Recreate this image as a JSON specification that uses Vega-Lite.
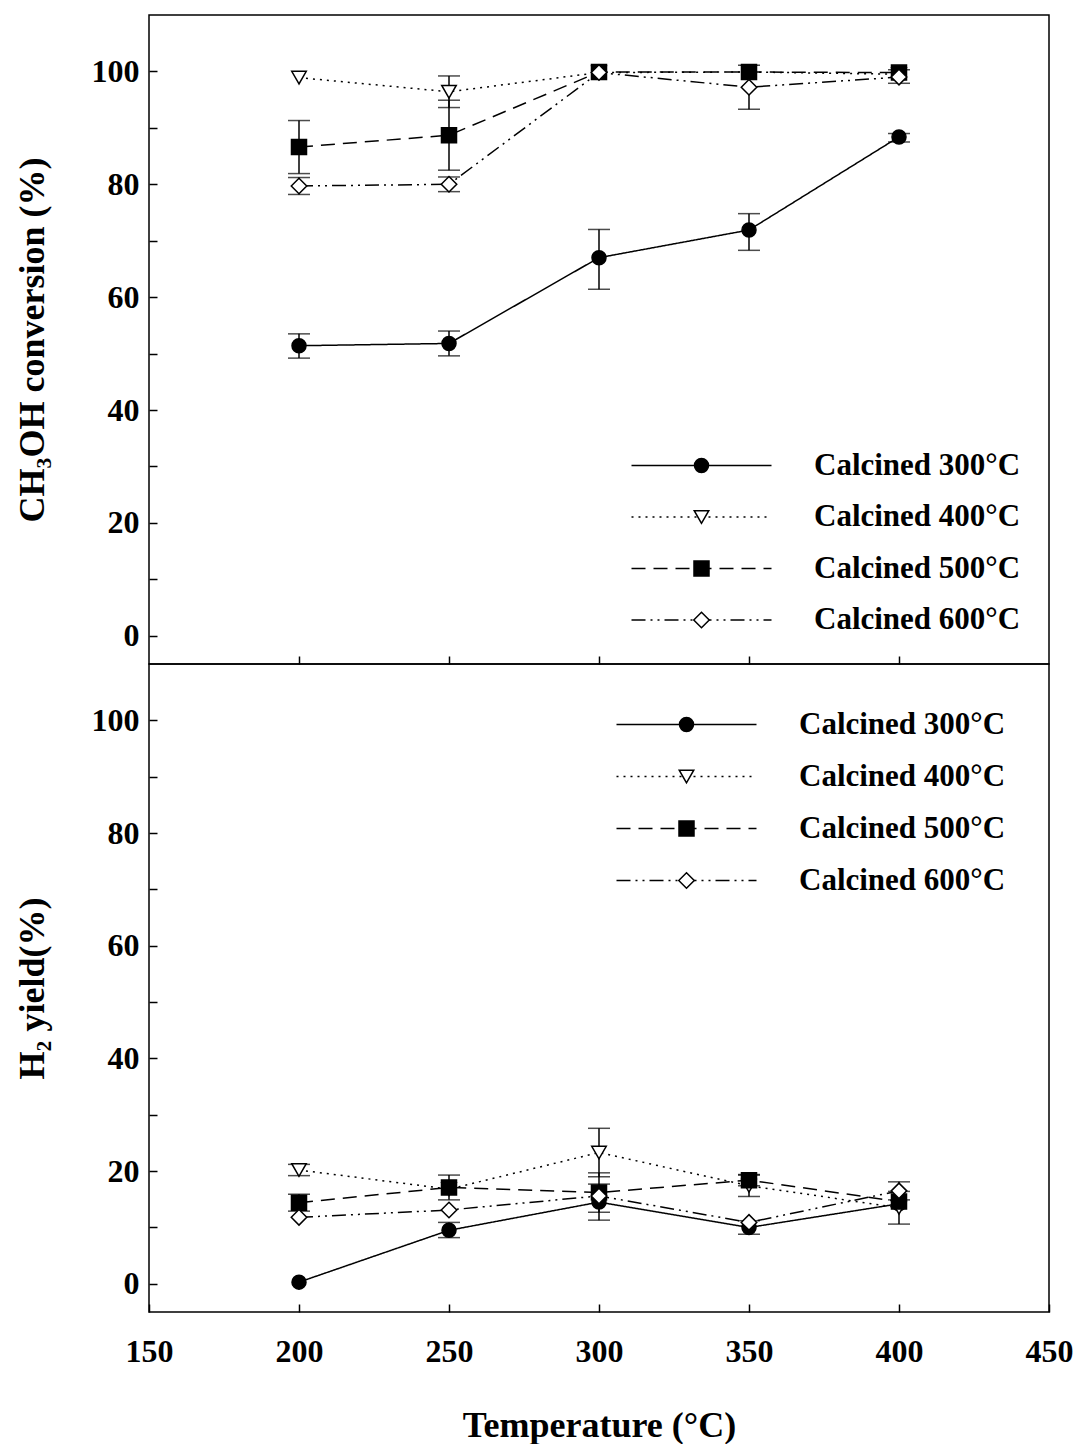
{
  "$schema": "https://vega.github.io/schema/vega-lite/v6.json",
  "background": "white",
  "padding": {"left": 13, "top": 14, "right": 5, "bottom": 0},
  "spacing": 0,
  "bounds": "flush",
  "config": {
    "view": {"stroke": "black", "strokeWidth": 1.5},
    "font": "Liberation Serif",
    "axis": {
      "grid": false,
      "domain": false,
      "tickColor": "black",
      "tickWidth": 1.5,
      "tickSize": -8,
      "labelFont": "Liberation Serif",
      "labelFontWeight": "bold",
      "labelFontSize": 32,
      "labelColor": "black",
      "titleFont": "Liberation Serif",
      "titleFontWeight": "bold",
      "titleFontSize": 36,
      "titleColor": "black"
    }
  },
  "datasets": {
    "conv": [
      {"series": "Calcined 300°C", "T": 200, "v": 51.4, "lo": 49.2, "hi": 53.5},
      {"series": "Calcined 300°C", "T": 250, "v": 51.8, "lo": 49.6, "hi": 54.0},
      {"series": "Calcined 300°C", "T": 300, "v": 67.0, "lo": 61.4, "hi": 72.0},
      {"series": "Calcined 300°C", "T": 350, "v": 71.9, "lo": 68.3, "hi": 74.8},
      {"series": "Calcined 300°C", "T": 400, "v": 88.4, "lo": 87.5, "hi": 89.0},
      {"series": "Calcined 400°C", "T": 200, "v": 98.9, "lo": null, "hi": null},
      {"series": "Calcined 400°C", "T": 250, "v": 96.4, "lo": 93.6, "hi": 99.2},
      {"series": "Calcined 400°C", "T": 300, "v": 99.8, "lo": null, "hi": null},
      {"series": "Calcined 400°C", "T": 350, "v": 99.9, "lo": null, "hi": null},
      {"series": "Calcined 400°C", "T": 400, "v": 99.5, "lo": null, "hi": null},
      {"series": "Calcined 500°C", "T": 200, "v": 86.6, "lo": 81.9, "hi": 91.3},
      {"series": "Calcined 500°C", "T": 250, "v": 88.7, "lo": 82.5, "hi": 94.9},
      {"series": "Calcined 500°C", "T": 300, "v": 99.9, "lo": null, "hi": null},
      {"series": "Calcined 500°C", "T": 350, "v": 99.9, "lo": null, "hi": null},
      {"series": "Calcined 500°C", "T": 400, "v": 99.8, "lo": null, "hi": null},
      {"series": "Calcined 600°C", "T": 200, "v": 79.7, "lo": 78.2, "hi": 81.2},
      {"series": "Calcined 600°C", "T": 250, "v": 80.0, "lo": 78.7, "hi": 81.3},
      {"series": "Calcined 600°C", "T": 300, "v": 99.8, "lo": null, "hi": null},
      {"series": "Calcined 600°C", "T": 350, "v": 97.2, "lo": 93.3, "hi": 101.1},
      {"series": "Calcined 600°C", "T": 400, "v": 99.0, "lo": 97.9, "hi": 100.3}
    ],
    "h2": [
      {"series": "Calcined 300°C", "T": 200, "v": 0.3, "lo": null, "hi": null},
      {"series": "Calcined 300°C", "T": 250, "v": 9.5, "lo": 8.2, "hi": 10.9},
      {"series": "Calcined 300°C", "T": 300, "v": 14.5, "lo": 11.3, "hi": 17.7},
      {"series": "Calcined 300°C", "T": 350, "v": 10.0, "lo": 8.8, "hi": 11.2},
      {"series": "Calcined 300°C", "T": 400, "v": 14.2, "lo": null, "hi": null},
      {"series": "Calcined 400°C", "T": 200, "v": 20.2, "lo": 19.2, "hi": 21.2},
      {"series": "Calcined 400°C", "T": 250, "v": 16.8, "lo": null, "hi": null},
      {"series": "Calcined 400°C", "T": 300, "v": 23.3, "lo": 19.0, "hi": 27.6},
      {"series": "Calcined 400°C", "T": 350, "v": 17.4, "lo": 15.5, "hi": 19.3},
      {"series": "Calcined 400°C", "T": 400, "v": 13.5, "lo": 10.6, "hi": 16.4},
      {"series": "Calcined 500°C", "T": 200, "v": 14.4, "lo": 12.9, "hi": 15.9},
      {"series": "Calcined 500°C", "T": 250, "v": 17.1, "lo": 14.9, "hi": 19.3},
      {"series": "Calcined 500°C", "T": 300, "v": 16.2, "lo": 12.7, "hi": 19.7},
      {"series": "Calcined 500°C", "T": 350, "v": 18.4, "lo": 17.4, "hi": 19.4},
      {"series": "Calcined 500°C", "T": 400, "v": 14.6, "lo": null, "hi": null},
      {"series": "Calcined 600°C", "T": 200, "v": 11.8, "lo": null, "hi": null},
      {"series": "Calcined 600°C", "T": 250, "v": 13.1, "lo": null, "hi": null},
      {"series": "Calcined 600°C", "T": 300, "v": 15.6, "lo": null, "hi": null},
      {"series": "Calcined 600°C", "T": 350, "v": 10.9, "lo": null, "hi": null},
      {"series": "Calcined 600°C", "T": 400, "v": 16.5, "lo": 14.9, "hi": 18.1}
    ]
  },
  "vconcat": [
    {
      "width": 900,
      "height": 649,
      "data": {"name": "conv"},
      "encoding": {
        "x": {"field": "T", "type": "quantitative", "scale": {"domain": [150, 450], "nice": false, "zero": false},
              "axis": {"title": null, "labels": false, "values": [200, 250, 300, 350, 400]}},
        "y": {"field": "v", "type": "quantitative", "scale": {"domain": [-5, 110], "nice": false, "zero": false},
              "axis": {"title": "CH₃OH conversion (%)", "values": [0, 10, 20, 30, 40, 50, 60, 70, 80, 90, 100],
                       "labelExpr": "datum.value % 20 == 0 ? datum.label : ''", "labelPadding": 18, "titlePadding": 40}}
      },
      "layer": [
        {
          "mark": {"type": "line", "stroke": "black", "strokeWidth": 1.5},
          "encoding": {
            "strokeDash": {"field": "series", "type": "nominal",
              "scale": {"domain": ["Calcined 300°C", "Calcined 400°C", "Calcined 500°C", "Calcined 600°C"],
                        "range": [[1, 0], [2, 5], [14, 8], [14, 5, 2, 5, 2, 5]]},
              "legend": {"orient": "none", "legendX": 537, "legendY": 435, "title": null, "padding": 0,
                         "symbolType": "M-7,0H7", "symbolSize": 400, "symbolStrokeWidth": 1.5, "symbolStrokeColor": "black",
                         "symbolFillColor": "transparent", "labelExpr": "''", "labelFontSize": 31, "labelFont": "Liberation Serif",
                         "labelFontWeight": "bold", "rowPadding": 19.5, "labelLimit": 400}}
          }
        },
        {
          "transform": [{"filter": "datum.lo != null"}],
          "mark": {"type": "errorbar", "color": "black", "ticks": {"size": 22, "thickness": 1.5, "color": "black"}, "rule": {"strokeWidth": 1.5}},
          "encoding": {
            "y": {"field": "lo", "type": "quantitative"},
            "y2": {"field": "hi"}
          }
        },
        {
          "mark": {"type": "point", "filled": true, "stroke": "black", "strokeWidth": 1.5, "opacity": 1},
          "encoding": {
            "shape": {"field": "series", "type": "nominal",
              "scale": {"range": ["circle", "triangle-down", "square", "diamond"]},
              "legend": {"orient": "none", "legendX": 537, "legendY": 435, "title": null, "padding": 0,
                         "symbolStrokeWidth": 1.5, "symbolStrokeColor": "black", "symbolOpacity": 1,
                         "labelFontSize": 31, "labelFont": "Liberation Serif", "labelFontWeight": "bold", "labelColor": "black",
                         "labelOffset": 97, "rowPadding": 19.5, "labelLimit": 400,
                         "encode": {"symbols": {"update": {"stroke": {"value": "black"}, "strokeWidth": {"value": 1.5}}}}}},
            "fill": {"field": "series", "type": "nominal",
              "scale": {"range": ["black", "white", "black", "white"]},
              "legend": {"orient": "none", "legendX": 537, "legendY": 435, "title": null, "padding": 0,
                         "symbolStrokeWidth": 1.5, "symbolStrokeColor": "black", "symbolOpacity": 1,
                         "labelFontSize": 31, "labelFont": "Liberation Serif", "labelFontWeight": "bold", "labelColor": "black",
                         "labelOffset": 97, "rowPadding": 19.5, "labelLimit": 400,
                         "encode": {"symbols": {"update": {"stroke": {"value": "black"}, "strokeWidth": {"value": 1.5}}}}}},
            "size": {"field": "series", "type": "nominal",
              "scale": {"range": [196, 240, 169, 300]},
              "legend": {"orient": "none", "legendX": 537, "legendY": 435, "title": null, "padding": 0,
                         "symbolStrokeWidth": 1.5, "symbolStrokeColor": "black", "symbolOpacity": 1,
                         "labelFontSize": 31, "labelFont": "Liberation Serif", "labelFontWeight": "bold", "labelColor": "black",
                         "labelOffset": 97, "rowPadding": 19.5, "labelLimit": 400,
                         "encode": {"symbols": {"update": {"stroke": {"value": "black"}, "strokeWidth": {"value": 1.5}}}}}}
          }
        }
      ]
    },
    {
      "width": 900,
      "height": 648,
      "data": {"name": "h2"},
      "encoding": {
        "x": {"field": "T", "type": "quantitative", "scale": {"domain": [150, 450], "nice": false, "zero": false},
              "axis": {"title": "Temperature (°C)", "values": [150, 200, 250, 300, 350, 400, 450], "labelPadding": 32, "titlePadding": 41, "labelFlush": false}},
        "y": {"field": "v", "type": "quantitative", "scale": {"domain": [-5, 110], "nice": false, "zero": false},
              "axis": {"title": "H₂ yield(%)", "values": [0, 10, 20, 30, 40, 50, 60, 70, 80, 90, 100],
                       "labelExpr": "datum.value % 20 == 0 ? datum.label : ''", "labelPadding": 18, "titlePadding": 40}}
      },
      "layer": [
        {
          "mark": {"type": "line", "stroke": "black", "strokeWidth": 1.5},
          "encoding": {
            "strokeDash": {"field": "series", "type": "nominal",
              "scale": {"domain": ["Calcined 300°C", "Calcined 400°C", "Calcined 500°C", "Calcined 600°C"],
                        "range": [[1, 0], [2, 5], [14, 8], [14, 5, 2, 5, 2, 5]]},
              "legend": {"orient": "none", "legendX": 522, "legendY": 45, "title": null, "padding": 0,
                         "symbolType": "M-7,0H7", "symbolSize": 400, "symbolStrokeWidth": 1.5, "symbolStrokeColor": "black",
                         "symbolFillColor": "transparent", "labelExpr": "''", "labelFontSize": 31, "labelFont": "Liberation Serif",
                         "labelFontWeight": "bold", "rowPadding": 20, "labelLimit": 400}}
          }
        },
        {
          "transform": [{"filter": "datum.lo != null"}],
          "mark": {"type": "errorbar", "color": "black", "ticks": {"size": 22, "thickness": 1.5, "color": "black"}, "rule": {"strokeWidth": 1.5}},
          "encoding": {
            "y": {"field": "lo", "type": "quantitative"},
            "y2": {"field": "hi"}
          }
        },
        {
          "mark": {"type": "point", "filled": true, "stroke": "black", "strokeWidth": 1.5, "opacity": 1},
          "encoding": {
            "shape": {"field": "series", "type": "nominal",
              "scale": {"range": ["circle", "triangle-down", "square", "diamond"]},
              "legend": {"orient": "none", "legendX": 522, "legendY": 45, "title": null, "padding": 0,
                         "symbolStrokeWidth": 1.5, "symbolStrokeColor": "black", "symbolOpacity": 1,
                         "labelFontSize": 31, "labelFont": "Liberation Serif", "labelFontWeight": "bold", "labelColor": "black",
                         "labelOffset": 97, "rowPadding": 20, "labelLimit": 400,
                         "encode": {"symbols": {"update": {"stroke": {"value": "black"}, "strokeWidth": {"value": 1.5}}}}}},
            "fill": {"field": "series", "type": "nominal",
              "scale": {"range": ["black", "white", "black", "white"]},
              "legend": {"orient": "none", "legendX": 522, "legendY": 45, "title": null, "padding": 0,
                         "symbolStrokeWidth": 1.5, "symbolStrokeColor": "black", "symbolOpacity": 1,
                         "labelFontSize": 31, "labelFont": "Liberation Serif", "labelFontWeight": "bold", "labelColor": "black",
                         "labelOffset": 97, "rowPadding": 20, "labelLimit": 400,
                         "encode": {"symbols": {"update": {"stroke": {"value": "black"}, "strokeWidth": {"value": 1.5}}}}}},
            "size": {"field": "series", "type": "nominal",
              "scale": {"range": [196, 240, 169, 300]},
              "legend": {"orient": "none", "legendX": 522, "legendY": 45, "title": null, "padding": 0,
                         "symbolStrokeWidth": 1.5, "symbolStrokeColor": "black", "symbolOpacity": 1,
                         "labelFontSize": 31, "labelFont": "Liberation Serif", "labelFontWeight": "bold", "labelColor": "black",
                         "labelOffset": 97, "rowPadding": 20, "labelLimit": 400,
                         "encode": {"symbols": {"update": {"stroke": {"value": "black"}, "strokeWidth": {"value": 1.5}}}}}}
          }
        }
      ]
    }
  ],
  "resolve": {
    "scale": {"shape": "independent", "fill": "independent", "strokeDash": "independent", "size": "independent"},
    "legend": {"shape": "independent", "fill": "independent", "strokeDash": "independent", "size": "independent"}
  }
}
